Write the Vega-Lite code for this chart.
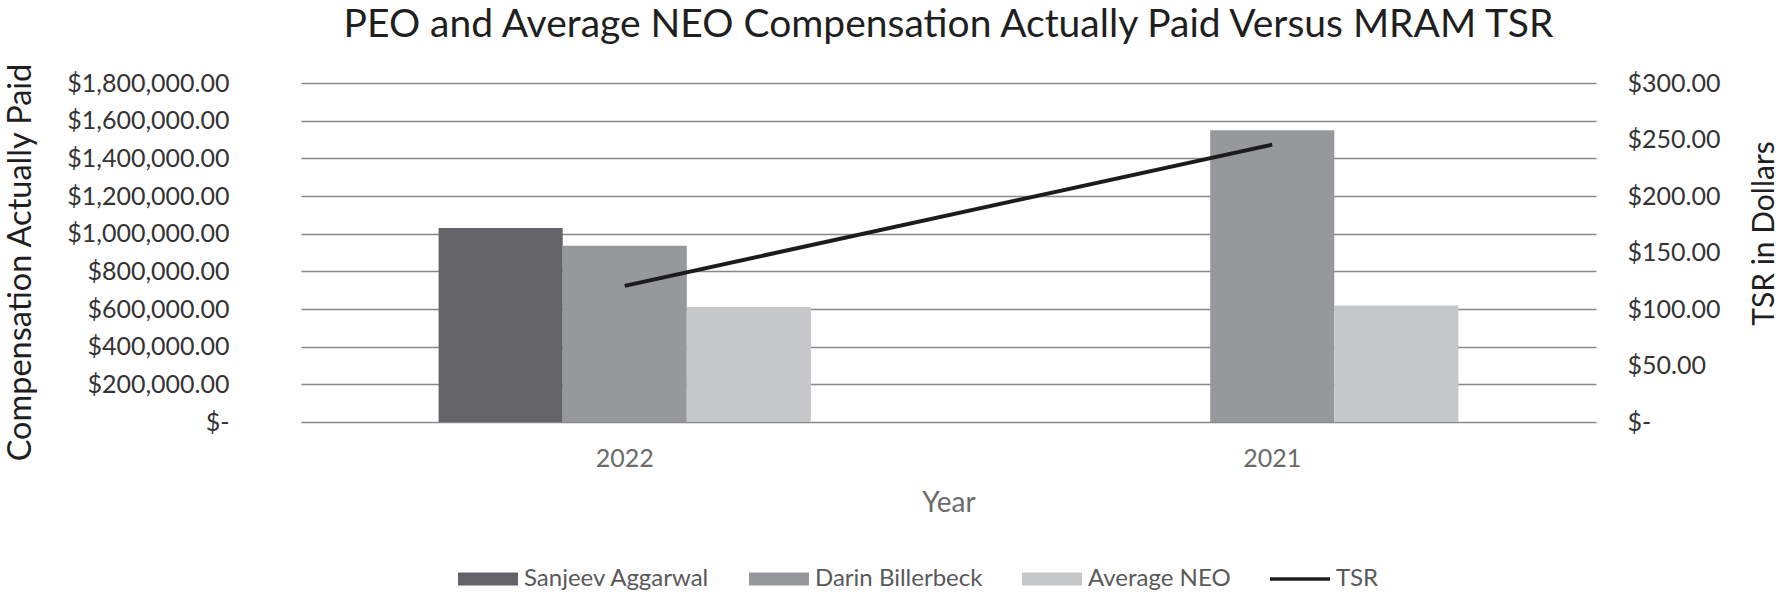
{
  "$schema": "https://vega.github.io/schema/vega-lite/v6.json",
  "width": 1295,
  "height": 339,
  "autosize": {"type": "none"},
  "padding": {"left": 301, "top": 83, "right": 187, "bottom": 174},
  "background": "white",
  "config": {"font": "Lato", "view": {"stroke": null}},
  "title": {
    "text": "PEO and Average NEO Compensation Actually Paid Versus MRAM TSR",
    "font": "Lato",
    "fontSize": 39,
    "fontWeight": "normal",
    "color": "#1f1f1f",
    "anchor": "middle",
    "baseline": "alphabetic",
    "offset": -18
  },
  "datasets": {
    "comp": [
      {"year": "2022", "series": "Sanjeev Aggarwal", "value": 1030000},
      {"year": "2022", "series": "Darin Billerbeck", "value": 936000},
      {"year": "2022", "series": "Average NEO", "value": 611000},
      {"year": "2021", "series": "Darin Billerbeck", "value": 1549000},
      {"year": "2021", "series": "Average NEO", "value": 619000}
    ],
    "tsr": [
      {"year": "2022", "tsr": 120.5},
      {"year": "2021", "tsr": 245.5}
    ]
  },
  "layer": [
    {
      "data": {"name": "comp"},
      "mark": {"type": "bar"},
      "encoding": {
        "x": {
          "field": "year",
          "type": "nominal",
          "sort": ["2022", "2021"],
          "scale": {"paddingInner": 0.425, "paddingOuter": 0.2125},
          "axis": {
            "orient": "bottom",
            "labelAngle": 0,
            "labelFont": "Lato",
            "labelFontSize": 25,
            "labelColor": "#6b6b6b",
            "labelPadding": 24,
            "ticks": false,
            "tickSize": 0,
            "domain": false,
            "grid": false,
            "title": "Year",
            "titleFont": "Lato",
            "titleFontSize": 28,
            "titleFontWeight": "normal",
            "titleColor": "#6b6b6b",
            "titlePadding": 18
          }
        },
        "xOffset": {
          "field": "series",
          "type": "nominal",
          "sort": ["Sanjeev Aggarwal", "Darin Billerbeck", "Average NEO"],
          "scale": {"paddingInner": 0, "paddingOuter": 0}
        },
        "y": {
          "field": "value",
          "type": "quantitative",
          "scale": {"domain": [0, 1800000]},
          "axis": {
            "orient": "left",
            "values": [0, 200000, 400000, 600000, 800000, 1000000, 1200000, 1400000, 1600000, 1800000],
            "labelExpr": "datum.value == 0 ? '$-' : '$' + format(datum.value, ',.2f')",
            "labelFont": "Lato",
            "labelFontSize": 25,
            "labelColor": "#333333",
            "labelPadding": 72,
            "ticks": false,
            "tickSize": 0,
            "domain": false,
            "grid": true,
            "gridColor": "#888888",
            "gridWidth": 1.3,
            "title": "Compensation  Actually Paid",
            "titleFont": "Lato",
            "titleFontSize": 32.5,
            "titleFontWeight": "normal",
            "titleColor": "#1f1f1f",
            "titleAngle": -90,
            "titleBaseline": "alphabetic",
            "titleAlign": "center",
            "titleX": -271,
            "titleY": 179
          }
        },
        "color": {
          "field": "series",
          "type": "nominal",
          "scale": {
            "domain": ["Sanjeev Aggarwal", "Darin Billerbeck", "Average NEO", "TSR"],
            "range": ["#646468", "#97989b", "#c6c7c9", "#1c1c1c"]
          },
          "legend": {
            "orient": "none",
            "legendX": 157,
            "legendY": 466,
            "direction": "horizontal",
            "columns": 4,
            "title": null,
            "padding": 0,
            "labelFont": "Lato",
            "labelFontSize": 24,
            "labelColor": "#595959",
            "labelOffset": 6,
            "labelLimit": 0,
            "columnPadding": 39,
            "symbolSize": 3600,
            "encode": {
              "symbols": {
                "update": {
                  "shape": {"signal": "datum.value === 'TSR' ? 'M-1,-0.055H1V0.055H-1Z' : 'M-1,-0.217H1V0.217H-1Z'"},
                  "fill": {"signal": "scale('color', datum.value)"},
                  "stroke": {"value": "transparent"},
                  "strokeWidth": {"value": 0},
                  "opacity": {"value": 1},
                  "fillOpacity": {"value": 1}
                }
              }
            }
          }
        }
      }
    },
    {
      "data": {"name": "tsr"},
      "mark": {"type": "line", "strokeWidth": 4, "strokeCap": "butt"},
      "encoding": {
        "x": {"field": "year", "type": "nominal", "sort": ["2022", "2021"]},
        "y": {
          "field": "tsr",
          "type": "quantitative",
          "scale": {"domain": [0, 300]},
          "axis": {
            "orient": "right",
            "values": [0, 50, 100, 150, 200, 250, 300],
            "labelExpr": "datum.value == 0 ? '$-' : '$' + format(datum.value, '.2f')",
            "labelFont": "Lato",
            "labelFontSize": 25,
            "labelColor": "#333333",
            "labelPadding": 31,
            "ticks": false,
            "tickSize": 0,
            "domain": false,
            "grid": false,
            "title": "TSR in Dollars",
            "titleFont": "Lato",
            "titleFontSize": 30,
            "titleFontWeight": "normal",
            "titleColor": "#1f1f1f",
            "titleAngle": -90,
            "titleBaseline": "alphabetic",
            "titleAlign": "center",
            "titleX": 177,
            "titleY": 150
          }
        },
        "color": {"datum": "TSR"}
      }
    }
  ],
  "resolve": {"scale": {"y": "independent"}}
}
